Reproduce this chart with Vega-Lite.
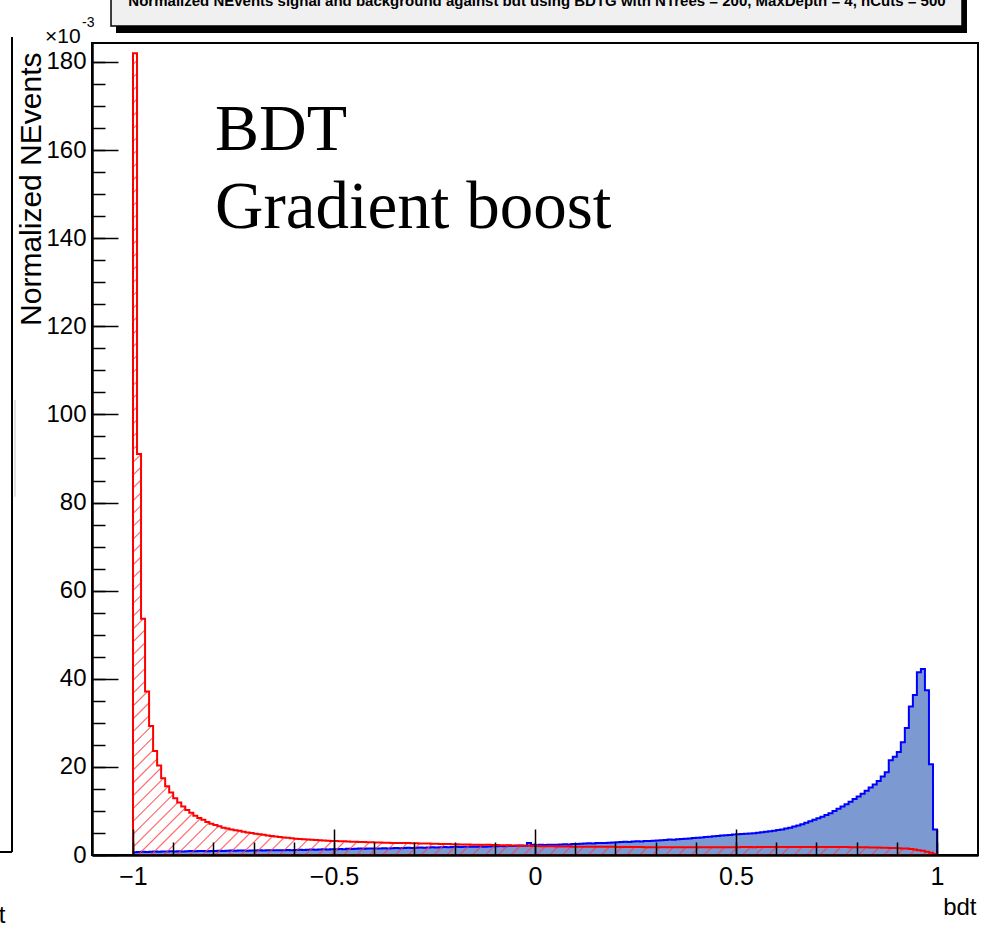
{
"$schema": "https://vega.github.io/schema/vega-lite/v6.json",
"width": 886, "height": 812,
"autosize": {"type": "none"},
"padding": {"left": 92, "top": 43, "right": 8, "bottom": 82},
"background": "#ffffff",
"config": {"view": {"stroke": "#000000", "strokeWidth": 2}, "font": "Liberation Sans"},
"data": {"values": [{"note": "annotation"}]},
"datasets": {"h": [
{"x":-1,"s":0.6,"b":182},{"x":-0.99,"s":0.7,"b":91},{"x":-0.98,"s":0.75,"b":53.6},{"x":-0.97,"s":0.7,"b":37.1},{"x":-0.96,"s":0.75,"b":29.3},{"x":-0.95,"s":0.8,"b":23.6},{"x":-0.94,"s":0.75,"b":20.3},{"x":-0.93,"s":0.8,"b":17.4},{"x":-0.92,"s":0.8,"b":15.6},{"x":-0.91,"s":0.85,"b":14.2},
{"x":-0.9,"s":0.8,"b":12.9},{"x":-0.89,"s":0.85,"b":11.9},{"x":-0.88,"s":0.8,"b":11.0},{"x":-0.87,"s":0.85,"b":10.2},{"x":-0.86,"s":0.9,"b":9.6},{"x":-0.85,"s":0.85,"b":8.9},{"x":-0.84,"s":0.9,"b":8.4},{"x":-0.83,"s":0.9,"b":8.0},{"x":-0.82,"s":0.85,"b":7.5},{"x":-0.81,"s":0.9,"b":7.1},
{"x":-0.8,"s":0.9,"b":6.8},{"x":-0.79,"s":0.95,"b":6.5},{"x":-0.78,"s":0.9,"b":6.2},{"x":-0.77,"s":0.95,"b":6.0},{"x":-0.76,"s":1.0,"b":5.8},{"x":-0.75,"s":0.95,"b":5.6},{"x":-0.74,"s":1.0,"b":5.5},{"x":-0.73,"s":1.0,"b":5.3},{"x":-0.72,"s":0.95,"b":5.1},{"x":-0.71,"s":1.0,"b":5.0},
{"x":-0.7,"s":1.0,"b":4.8},{"x":-0.69,"s":1.05,"b":4.7},{"x":-0.68,"s":1.0,"b":4.6},{"x":-0.67,"s":1.1,"b":4.4},{"x":-0.66,"s":1.05,"b":4.3},{"x":-0.65,"s":1.1,"b":4.2},{"x":-0.64,"s":1.1,"b":4.1},{"x":-0.63,"s":1.05,"b":4.0},{"x":-0.62,"s":1.15,"b":3.9},{"x":-0.61,"s":1.1,"b":3.8},
{"x":-0.6,"s":1.15,"b":3.7},{"x":-0.59,"s":1.2,"b":3.65},{"x":-0.58,"s":1.15,"b":3.6},{"x":-0.57,"s":1.2,"b":3.5},{"x":-0.56,"s":1.25,"b":3.45},{"x":-0.55,"s":1.2,"b":3.4},{"x":-0.54,"s":1.25,"b":3.35},{"x":-0.53,"s":1.3,"b":3.3},{"x":-0.52,"s":1.25,"b":3.25},{"x":-0.51,"s":1.3,"b":3.2},
{"x":-0.5,"s":1.3,"b":3.15},{"x":-0.49,"s":1.35,"b":3.1},{"x":-0.48,"s":1.3,"b":3.1},{"x":-0.47,"s":1.4,"b":3.05},{"x":-0.46,"s":1.35,"b":3.0},{"x":-0.45,"s":1.4,"b":3.0},{"x":-0.44,"s":1.45,"b":2.95},{"x":-0.43,"s":1.4,"b":2.95},{"x":-0.42,"s":1.45,"b":2.9},{"x":-0.41,"s":1.5,"b":2.9},
{"x":-0.4,"s":1.5,"b":2.85},{"x":-0.39,"s":1.45,"b":2.85},{"x":-0.38,"s":1.55,"b":2.8},{"x":-0.37,"s":1.5,"b":2.8},{"x":-0.36,"s":1.55,"b":2.75},{"x":-0.35,"s":1.6,"b":2.75},{"x":-0.34,"s":1.55,"b":2.7},{"x":-0.33,"s":1.6,"b":2.7},{"x":-0.32,"s":1.65,"b":2.7},{"x":-0.31,"s":1.6,"b":2.65},
{"x":-0.3,"s":1.65,"b":2.65},{"x":-0.29,"s":1.7,"b":2.6},{"x":-0.28,"s":1.65,"b":2.6},{"x":-0.27,"s":1.7,"b":2.6},{"x":-0.26,"s":1.75,"b":2.55},{"x":-0.25,"s":1.7,"b":2.55},{"x":-0.24,"s":1.75,"b":2.5},{"x":-0.23,"s":1.8,"b":2.5},{"x":-0.22,"s":1.75,"b":2.5},{"x":-0.21,"s":1.8,"b":2.45},
{"x":-0.2,"s":1.85,"b":2.45},{"x":-0.19,"s":1.8,"b":2.4},{"x":-0.18,"s":1.85,"b":2.4},{"x":-0.17,"s":1.9,"b":2.4},{"x":-0.16,"s":1.85,"b":2.35},{"x":-0.15,"s":1.9,"b":2.35},{"x":-0.14,"s":1.95,"b":2.3},{"x":-0.13,"s":1.9,"b":2.3},{"x":-0.12,"s":1.95,"b":2.3},{"x":-0.11,"s":2.0,"b":2.25},
{"x":-0.1,"s":2.0,"b":2.25},{"x":-0.09,"s":2.05,"b":2.2},{"x":-0.08,"s":2.0,"b":2.2},{"x":-0.07,"s":2.1,"b":2.2},{"x":-0.06,"s":2.05,"b":2.15},{"x":-0.05,"s":2.1,"b":2.15},{"x":-0.04,"s":2.15,"b":2.1},{"x":-0.03,"s":2.1,"b":2.1},{"x":-0.02,"s":2.7,"b":2.1},{"x":-0.01,"s":2.3,"b":2.05},
{"x":0,"s":2.2,"b":2.05},{"x":0.01,"s":2.3,"b":2.0},{"x":0.02,"s":2.25,"b":2.0},{"x":0.03,"s":2.3,"b":2.0},{"x":0.04,"s":2.35,"b":2.0},{"x":0.05,"s":2.3,"b":1.95},{"x":0.06,"s":2.4,"b":1.95},{"x":0.07,"s":2.45,"b":1.95},{"x":0.08,"s":2.4,"b":1.95},{"x":0.09,"s":2.5,"b":1.9},
{"x":0.1,"s":2.5,"b":1.9},{"x":0.11,"s":2.55,"b":1.9},{"x":0.12,"s":2.6,"b":1.9},{"x":0.13,"s":2.65,"b":1.9},{"x":0.14,"s":2.6,"b":1.85},{"x":0.15,"s":2.7,"b":1.85},{"x":0.16,"s":2.75,"b":1.85},{"x":0.17,"s":2.7,"b":1.85},{"x":0.18,"s":2.8,"b":1.85},{"x":0.19,"s":2.85,"b":1.85},
{"x":0.2,"s":2.9,"b":1.8},{"x":0.21,"s":2.95,"b":1.8},{"x":0.22,"s":3.0,"b":1.8},{"x":0.23,"s":2.95,"b":1.8},{"x":0.24,"s":3.05,"b":1.8},{"x":0.25,"s":3.1,"b":1.8},{"x":0.26,"s":3.05,"b":1.8},{"x":0.27,"s":3.2,"b":1.75},{"x":0.28,"s":3.15,"b":1.75},{"x":0.29,"s":3.25,"b":1.75},
{"x":0.3,"s":3.3,"b":1.75},{"x":0.31,"s":3.35,"b":1.75},{"x":0.32,"s":3.4,"b":1.75},{"x":0.33,"s":3.5,"b":1.75},{"x":0.34,"s":3.45,"b":1.75},{"x":0.35,"s":3.6,"b":1.75},{"x":0.36,"s":3.65,"b":1.75},{"x":0.37,"s":3.7,"b":1.75},{"x":0.38,"s":3.75,"b":1.75},{"x":0.39,"s":3.85,"b":1.75},
{"x":0.4,"s":3.9,"b":1.75},{"x":0.41,"s":4.0,"b":1.75},{"x":0.42,"s":4.1,"b":1.75},{"x":0.43,"s":4.15,"b":1.75},{"x":0.44,"s":4.25,"b":1.75},{"x":0.45,"s":4.3,"b":1.75},{"x":0.46,"s":4.4,"b":1.75},{"x":0.47,"s":4.5,"b":1.75},{"x":0.48,"s":4.55,"b":1.75},{"x":0.49,"s":4.65,"b":1.75},
{"x":0.5,"s":4.7,"b":1.75},{"x":0.51,"s":4.75,"b":1.8},{"x":0.52,"s":4.8,"b":1.8},{"x":0.53,"s":4.9,"b":1.8},{"x":0.54,"s":4.95,"b":1.75},{"x":0.55,"s":5.05,"b":1.8},{"x":0.56,"s":5.15,"b":1.8},{"x":0.57,"s":5.3,"b":1.8},{"x":0.58,"s":5.4,"b":1.8},{"x":0.59,"s":5.5,"b":1.8},
{"x":0.6,"s":5.65,"b":1.8},{"x":0.61,"s":5.8,"b":1.8},{"x":0.62,"s":6.0,"b":1.8},{"x":0.63,"s":6.2,"b":1.8},{"x":0.64,"s":6.45,"b":1.8},{"x":0.65,"s":6.7,"b":1.8},{"x":0.66,"s":7.0,"b":1.8},{"x":0.67,"s":7.3,"b":1.8},{"x":0.68,"s":7.65,"b":1.8},{"x":0.69,"s":8.0,"b":1.8},
{"x":0.7,"s":8.35,"b":1.8},{"x":0.71,"s":8.7,"b":1.8},{"x":0.72,"s":9.1,"b":1.8},{"x":0.73,"s":9.5,"b":1.8},{"x":0.74,"s":10.0,"b":1.8},{"x":0.75,"s":10.5,"b":1.8},{"x":0.76,"s":11.0,"b":1.8},{"x":0.77,"s":11.5,"b":1.8},{"x":0.78,"s":12.1,"b":1.75},{"x":0.79,"s":12.7,"b":1.75},
{"x":0.8,"s":13.3,"b":1.75},{"x":0.81,"s":13.9,"b":1.75},{"x":0.82,"s":14.6,"b":1.75},{"x":0.83,"s":15.3,"b":1.7},{"x":0.84,"s":16.0,"b":1.7},{"x":0.85,"s":16.8,"b":1.7},{"x":0.86,"s":17.8,"b":1.65},{"x":0.87,"s":18.8,"b":1.65},{"x":0.88,"s":21.5,"b":1.6},{"x":0.89,"s":22.3,"b":1.6},
{"x":0.9,"s":23.4,"b":1.55},{"x":0.91,"s":25.6,"b":1.5},{"x":0.92,"s":28.8,"b":1.45},{"x":0.93,"s":33.7,"b":1.35},{"x":0.94,"s":36.3,"b":1.25},{"x":0.95,"s":41.5,"b":1.1},{"x":0.96,"s":42.2,"b":0.95},{"x":0.97,"s":37.4,"b":0.75},{"x":0.98,"s":20.6,"b":0.5},{"x":0.99,"s":5.8,"b":0.25},
{"x":1,"s":0,"b":0}
]},
"resolve": {"axis": {"x": "independent", "y": "independent"}},
"layer": [
{"mark": {"type": "rect", "fill": "#000000"},
 "encoding": {
  "x": {"datum": -1.0423, "type": "quantitative", "scale": {"domain": [-1.102, 1.102], "nice": false, "zero": false}, "axis": null},
  "x2": {"datum": 1.0746},
  "y": {"datum": 186.56, "type": "quantitative", "scale": {"domain": [0, 184.3], "nice": false, "zero": false}, "axis": null},
  "y2": {"datum": 200}}},
{"mark": {"type": "rect", "fill": "#f0f0f0", "stroke": "#000000", "strokeWidth": 1.5},
 "encoding": {
  "x": {"datum": -1.0547, "type": "quantitative", "scale": {"domain": [-1.102, 1.102], "nice": false, "zero": false}, "axis": null},
  "x2": {"datum": 1.0622},
  "y": {"datum": 188.15, "type": "quantitative", "scale": {"domain": [0, 184.3], "nice": false, "zero": false}, "axis": null},
  "y2": {"datum": 200}}},
{"mark": {"type": "text", "text": "Normalized NEvents signal and background against bdt using BDTG with NTrees = 200, MaxDepth = 4, nCuts = 500", "font": "Liberation Sans", "fontSize": 15, "fontWeight": "bold", "align": "center", "baseline": "alphabetic", "color": "#000000"},
 "encoding": {
  "x": {"datum": 0.005, "type": "quantitative", "scale": {"domain": [-1.102, 1.102], "nice": false, "zero": false}, "axis": null},
  "y": {"datum": 192.7, "type": "quantitative", "scale": {"domain": [0, 184.3], "nice": false, "zero": false}, "axis": null}}},
{"data": {"name": "h"},
 "mark": {"type": "area", "interpolate": "step-after", "fill": "#7d99d1", "stroke": "#0000ff", "strokeWidth": 2, "strokeJoin": "miter", "clip": true},
 "encoding": {
  "x": {"field": "x", "type": "quantitative", "scale": {"domain": [-1.102, 1.102], "nice": false, "zero": false},
   "axis": {"orient": "bottom", "values": [-1, -0.5, 0, 0.5, 1], "format": "~g", "tickSize": -26, "tickColor": "#000000", "tickWidth": 1.5, "domainColor": "#000000", "domainWidth": 2.5, "grid": false, "labelFont": "Liberation Sans", "labelFontSize": 25, "labelColor": "#000000", "labelPadding": 35, "labelFlush": false, "labelOverlap": false, "labelBaseline": "top", "title": "bdt", "titleFont": "Liberation Sans", "titleFontSize": 24, "titleFontWeight": "normal", "titleColor": "#000000", "titleAlign": "right", "titleBaseline": "top", "titleX": 884, "titleY": 40, "zindex": 1}},
  "y": {"field": "s", "type": "quantitative", "scale": {"domain": [0, 184.3], "nice": false, "zero": false},
   "axis": {"orient": "left", "values": [0, 20, 40, 60, 80, 100, 120, 140, 160, 180], "format": "d", "tickSize": -26, "tickColor": "#000000", "tickWidth": 1.5, "domainColor": "#000000", "domainWidth": 2.5, "grid": false, "labelFont": "Liberation Sans", "labelFontSize": 24, "labelColor": "#000000", "labelPadding": 32, "labelFlush": false, "labelOverlap": false, "title": "Normalized NEvents", "titleFont": "Liberation Sans", "titleFontSize": 30, "titleFontWeight": "normal", "titleColor": "#000000", "titleAngle": -90, "titleAlign": "right", "titleBaseline": "bottom", "titleX": -46, "titleY": 9, "zindex": 1}}}},
{"data": {"name": "h"},
 "mark": {"type": "area", "interpolate": "step-after", "stroke": "#ff0000", "strokeWidth": 2, "strokeJoin": "miter", "clip": true,
  "fill": {"gradient": "linear", "x1": 0, "y1": 0, "x2": 1, "y2": 1, "stops": [
{"offset":0,"color":"rgba(255,0,0,0)"},
{"offset":0.00624,"color":"rgba(255,0,0,0)"},{"offset":0.00712,"color":"rgba(255,80,80,0.85)"},{"offset":0.008,"color":"rgba(255,0,0,0)"},
{"offset":0.01424,"color":"rgba(255,0,0,0)"},{"offset":0.01512,"color":"rgba(255,80,80,0.85)"},{"offset":0.016,"color":"rgba(255,0,0,0)"},
{"offset":0.02224,"color":"rgba(255,0,0,0)"},{"offset":0.02312,"color":"rgba(255,80,80,0.85)"},{"offset":0.024,"color":"rgba(255,0,0,0)"},
{"offset":0.03024,"color":"rgba(255,0,0,0)"},{"offset":0.03112,"color":"rgba(255,80,80,0.85)"},{"offset":0.032,"color":"rgba(255,0,0,0)"},
{"offset":0.03824,"color":"rgba(255,0,0,0)"},{"offset":0.03912,"color":"rgba(255,80,80,0.85)"},{"offset":0.04,"color":"rgba(255,0,0,0)"},
{"offset":0.04624,"color":"rgba(255,0,0,0)"},{"offset":0.04712,"color":"rgba(255,80,80,0.85)"},{"offset":0.048,"color":"rgba(255,0,0,0)"},
{"offset":0.05424,"color":"rgba(255,0,0,0)"},{"offset":0.05512,"color":"rgba(255,80,80,0.85)"},{"offset":0.056,"color":"rgba(255,0,0,0)"},
{"offset":0.06224,"color":"rgba(255,0,0,0)"},{"offset":0.06312,"color":"rgba(255,80,80,0.85)"},{"offset":0.064,"color":"rgba(255,0,0,0)"},
{"offset":0.07024,"color":"rgba(255,0,0,0)"},{"offset":0.07112,"color":"rgba(255,80,80,0.85)"},{"offset":0.072,"color":"rgba(255,0,0,0)"},
{"offset":0.07824,"color":"rgba(255,0,0,0)"},{"offset":0.07912,"color":"rgba(255,80,80,0.85)"},{"offset":0.08,"color":"rgba(255,0,0,0)"},
{"offset":0.08624,"color":"rgba(255,0,0,0)"},{"offset":0.08712,"color":"rgba(255,80,80,0.85)"},{"offset":0.088,"color":"rgba(255,0,0,0)"},
{"offset":0.09424,"color":"rgba(255,0,0,0)"},{"offset":0.09512,"color":"rgba(255,80,80,0.85)"},{"offset":0.096,"color":"rgba(255,0,0,0)"},
{"offset":0.10224,"color":"rgba(255,0,0,0)"},{"offset":0.10312,"color":"rgba(255,80,80,0.85)"},{"offset":0.104,"color":"rgba(255,0,0,0)"},
{"offset":0.11024,"color":"rgba(255,0,0,0)"},{"offset":0.11112,"color":"rgba(255,80,80,0.85)"},{"offset":0.112,"color":"rgba(255,0,0,0)"},
{"offset":0.11824,"color":"rgba(255,0,0,0)"},{"offset":0.11912,"color":"rgba(255,80,80,0.85)"},{"offset":0.12,"color":"rgba(255,0,0,0)"},
{"offset":0.12624,"color":"rgba(255,0,0,0)"},{"offset":0.12712,"color":"rgba(255,80,80,0.85)"},{"offset":0.128,"color":"rgba(255,0,0,0)"},
{"offset":0.13424,"color":"rgba(255,0,0,0)"},{"offset":0.13512,"color":"rgba(255,80,80,0.85)"},{"offset":0.136,"color":"rgba(255,0,0,0)"},
{"offset":0.14224,"color":"rgba(255,0,0,0)"},{"offset":0.14312,"color":"rgba(255,80,80,0.85)"},{"offset":0.144,"color":"rgba(255,0,0,0)"},
{"offset":0.15024,"color":"rgba(255,0,0,0)"},{"offset":0.15112,"color":"rgba(255,80,80,0.85)"},{"offset":0.152,"color":"rgba(255,0,0,0)"},
{"offset":0.15824,"color":"rgba(255,0,0,0)"},{"offset":0.15912,"color":"rgba(255,80,80,0.85)"},{"offset":0.16,"color":"rgba(255,0,0,0)"},
{"offset":0.16624,"color":"rgba(255,0,0,0)"},{"offset":0.16712,"color":"rgba(255,80,80,0.85)"},{"offset":0.168,"color":"rgba(255,0,0,0)"},
{"offset":0.17424,"color":"rgba(255,0,0,0)"},{"offset":0.17512,"color":"rgba(255,80,80,0.85)"},{"offset":0.176,"color":"rgba(255,0,0,0)"},
{"offset":0.18224,"color":"rgba(255,0,0,0)"},{"offset":0.18312,"color":"rgba(255,80,80,0.85)"},{"offset":0.184,"color":"rgba(255,0,0,0)"},
{"offset":0.19024,"color":"rgba(255,0,0,0)"},{"offset":0.19112,"color":"rgba(255,80,80,0.85)"},{"offset":0.192,"color":"rgba(255,0,0,0)"},
{"offset":0.19824,"color":"rgba(255,0,0,0)"},{"offset":0.19912,"color":"rgba(255,80,80,0.85)"},{"offset":0.2,"color":"rgba(255,0,0,0)"},
{"offset":0.20624,"color":"rgba(255,0,0,0)"},{"offset":0.20712,"color":"rgba(255,80,80,0.85)"},{"offset":0.208,"color":"rgba(255,0,0,0)"},
{"offset":0.21424,"color":"rgba(255,0,0,0)"},{"offset":0.21512,"color":"rgba(255,80,80,0.85)"},{"offset":0.216,"color":"rgba(255,0,0,0)"},
{"offset":0.22224,"color":"rgba(255,0,0,0)"},{"offset":0.22312,"color":"rgba(255,80,80,0.85)"},{"offset":0.224,"color":"rgba(255,0,0,0)"},
{"offset":0.23024,"color":"rgba(255,0,0,0)"},{"offset":0.23112,"color":"rgba(255,80,80,0.85)"},{"offset":0.232,"color":"rgba(255,0,0,0)"},
{"offset":0.23824,"color":"rgba(255,0,0,0)"},{"offset":0.23912,"color":"rgba(255,80,80,0.85)"},{"offset":0.24,"color":"rgba(255,0,0,0)"},
{"offset":0.24624,"color":"rgba(255,0,0,0)"},{"offset":0.24712,"color":"rgba(255,80,80,0.85)"},{"offset":0.248,"color":"rgba(255,0,0,0)"},
{"offset":0.25424,"color":"rgba(255,0,0,0)"},{"offset":0.25512,"color":"rgba(255,80,80,0.85)"},{"offset":0.256,"color":"rgba(255,0,0,0)"},
{"offset":0.26224,"color":"rgba(255,0,0,0)"},{"offset":0.26312,"color":"rgba(255,80,80,0.85)"},{"offset":0.264,"color":"rgba(255,0,0,0)"},
{"offset":0.27024,"color":"rgba(255,0,0,0)"},{"offset":0.27112,"color":"rgba(255,80,80,0.85)"},{"offset":0.272,"color":"rgba(255,0,0,0)"},
{"offset":0.27824,"color":"rgba(255,0,0,0)"},{"offset":0.27912,"color":"rgba(255,80,80,0.85)"},{"offset":0.28,"color":"rgba(255,0,0,0)"},
{"offset":0.28624,"color":"rgba(255,0,0,0)"},{"offset":0.28712,"color":"rgba(255,80,80,0.85)"},{"offset":0.288,"color":"rgba(255,0,0,0)"},
{"offset":0.29424,"color":"rgba(255,0,0,0)"},{"offset":0.29512,"color":"rgba(255,80,80,0.85)"},{"offset":0.296,"color":"rgba(255,0,0,0)"},
{"offset":0.30224,"color":"rgba(255,0,0,0)"},{"offset":0.30312,"color":"rgba(255,80,80,0.85)"},{"offset":0.304,"color":"rgba(255,0,0,0)"},
{"offset":0.31024,"color":"rgba(255,0,0,0)"},{"offset":0.31112,"color":"rgba(255,80,80,0.85)"},{"offset":0.312,"color":"rgba(255,0,0,0)"},
{"offset":0.31824,"color":"rgba(255,0,0,0)"},{"offset":0.31912,"color":"rgba(255,80,80,0.85)"},{"offset":0.32,"color":"rgba(255,0,0,0)"},
{"offset":0.32624,"color":"rgba(255,0,0,0)"},{"offset":0.32712,"color":"rgba(255,80,80,0.85)"},{"offset":0.328,"color":"rgba(255,0,0,0)"},
{"offset":0.33424,"color":"rgba(255,0,0,0)"},{"offset":0.33512,"color":"rgba(255,80,80,0.85)"},{"offset":0.336,"color":"rgba(255,0,0,0)"},
{"offset":0.34224,"color":"rgba(255,0,0,0)"},{"offset":0.34312,"color":"rgba(255,80,80,0.85)"},{"offset":0.344,"color":"rgba(255,0,0,0)"},
{"offset":0.35024,"color":"rgba(255,0,0,0)"},{"offset":0.35112,"color":"rgba(255,80,80,0.85)"},{"offset":0.352,"color":"rgba(255,0,0,0)"},
{"offset":0.35824,"color":"rgba(255,0,0,0)"},{"offset":0.35912,"color":"rgba(255,80,80,0.85)"},{"offset":0.36,"color":"rgba(255,0,0,0)"},
{"offset":0.36624,"color":"rgba(255,0,0,0)"},{"offset":0.36712,"color":"rgba(255,80,80,0.85)"},{"offset":0.368,"color":"rgba(255,0,0,0)"},
{"offset":0.37424,"color":"rgba(255,0,0,0)"},{"offset":0.37512,"color":"rgba(255,80,80,0.85)"},{"offset":0.376,"color":"rgba(255,0,0,0)"},
{"offset":0.38224,"color":"rgba(255,0,0,0)"},{"offset":0.38312,"color":"rgba(255,80,80,0.85)"},{"offset":0.384,"color":"rgba(255,0,0,0)"},
{"offset":0.39024,"color":"rgba(255,0,0,0)"},{"offset":0.39112,"color":"rgba(255,80,80,0.85)"},{"offset":0.392,"color":"rgba(255,0,0,0)"},
{"offset":0.39824,"color":"rgba(255,0,0,0)"},{"offset":0.39912,"color":"rgba(255,80,80,0.85)"},{"offset":0.4,"color":"rgba(255,0,0,0)"},
{"offset":0.40624,"color":"rgba(255,0,0,0)"},{"offset":0.40712,"color":"rgba(255,80,80,0.85)"},{"offset":0.408,"color":"rgba(255,0,0,0)"},
{"offset":0.41424,"color":"rgba(255,0,0,0)"},{"offset":0.41512,"color":"rgba(255,80,80,0.85)"},{"offset":0.416,"color":"rgba(255,0,0,0)"},
{"offset":0.42224,"color":"rgba(255,0,0,0)"},{"offset":0.42312,"color":"rgba(255,80,80,0.85)"},{"offset":0.424,"color":"rgba(255,0,0,0)"},
{"offset":0.43024,"color":"rgba(255,0,0,0)"},{"offset":0.43112,"color":"rgba(255,80,80,0.85)"},{"offset":0.432,"color":"rgba(255,0,0,0)"},
{"offset":0.43824,"color":"rgba(255,0,0,0)"},{"offset":0.43912,"color":"rgba(255,80,80,0.85)"},{"offset":0.44,"color":"rgba(255,0,0,0)"},
{"offset":0.44624,"color":"rgba(255,0,0,0)"},{"offset":0.44712,"color":"rgba(255,80,80,0.85)"},{"offset":0.448,"color":"rgba(255,0,0,0)"},
{"offset":0.45424,"color":"rgba(255,0,0,0)"},{"offset":0.45512,"color":"rgba(255,80,80,0.85)"},{"offset":0.456,"color":"rgba(255,0,0,0)"},
{"offset":0.46224,"color":"rgba(255,0,0,0)"},{"offset":0.46312,"color":"rgba(255,80,80,0.85)"},{"offset":0.464,"color":"rgba(255,0,0,0)"},
{"offset":0.47024,"color":"rgba(255,0,0,0)"},{"offset":0.47112,"color":"rgba(255,80,80,0.85)"},{"offset":0.472,"color":"rgba(255,0,0,0)"},
{"offset":0.47824,"color":"rgba(255,0,0,0)"},{"offset":0.47912,"color":"rgba(255,80,80,0.85)"},{"offset":0.48,"color":"rgba(255,0,0,0)"},
{"offset":0.48624,"color":"rgba(255,0,0,0)"},{"offset":0.48712,"color":"rgba(255,80,80,0.85)"},{"offset":0.488,"color":"rgba(255,0,0,0)"},
{"offset":0.49424,"color":"rgba(255,0,0,0)"},{"offset":0.49512,"color":"rgba(255,80,80,0.85)"},{"offset":0.496,"color":"rgba(255,0,0,0)"},
{"offset":0.50224,"color":"rgba(255,0,0,0)"},{"offset":0.50312,"color":"rgba(255,80,80,0.85)"},{"offset":0.504,"color":"rgba(255,0,0,0)"},
{"offset":0.51024,"color":"rgba(255,0,0,0)"},{"offset":0.51112,"color":"rgba(255,80,80,0.85)"},{"offset":0.512,"color":"rgba(255,0,0,0)"},
{"offset":0.51824,"color":"rgba(255,0,0,0)"},{"offset":0.51912,"color":"rgba(255,80,80,0.85)"},{"offset":0.52,"color":"rgba(255,0,0,0)"},
{"offset":0.52624,"color":"rgba(255,0,0,0)"},{"offset":0.52712,"color":"rgba(255,80,80,0.85)"},{"offset":0.528,"color":"rgba(255,0,0,0)"},
{"offset":0.53424,"color":"rgba(255,0,0,0)"},{"offset":0.53512,"color":"rgba(255,80,80,0.85)"},{"offset":0.536,"color":"rgba(255,0,0,0)"},
{"offset":0.54224,"color":"rgba(255,0,0,0)"},{"offset":0.54312,"color":"rgba(255,80,80,0.85)"},{"offset":0.544,"color":"rgba(255,0,0,0)"},
{"offset":0.55024,"color":"rgba(255,0,0,0)"},{"offset":0.55112,"color":"rgba(255,80,80,0.85)"},{"offset":0.552,"color":"rgba(255,0,0,0)"},
{"offset":0.55824,"color":"rgba(255,0,0,0)"},{"offset":0.55912,"color":"rgba(255,80,80,0.85)"},{"offset":0.56,"color":"rgba(255,0,0,0)"},
{"offset":0.56624,"color":"rgba(255,0,0,0)"},{"offset":0.56712,"color":"rgba(255,80,80,0.85)"},{"offset":0.568,"color":"rgba(255,0,0,0)"},
{"offset":0.57424,"color":"rgba(255,0,0,0)"},{"offset":0.57512,"color":"rgba(255,80,80,0.85)"},{"offset":0.576,"color":"rgba(255,0,0,0)"},
{"offset":0.58224,"color":"rgba(255,0,0,0)"},{"offset":0.58312,"color":"rgba(255,80,80,0.85)"},{"offset":0.584,"color":"rgba(255,0,0,0)"},
{"offset":0.59024,"color":"rgba(255,0,0,0)"},{"offset":0.59112,"color":"rgba(255,80,80,0.85)"},{"offset":0.592,"color":"rgba(255,0,0,0)"},
{"offset":0.59824,"color":"rgba(255,0,0,0)"},{"offset":0.59912,"color":"rgba(255,80,80,0.85)"},{"offset":0.6,"color":"rgba(255,0,0,0)"},
{"offset":0.60624,"color":"rgba(255,0,0,0)"},{"offset":0.60712,"color":"rgba(255,80,80,0.85)"},{"offset":0.608,"color":"rgba(255,0,0,0)"},
{"offset":0.61424,"color":"rgba(255,0,0,0)"},{"offset":0.61512,"color":"rgba(255,80,80,0.85)"},{"offset":0.616,"color":"rgba(255,0,0,0)"},
{"offset":0.62224,"color":"rgba(255,0,0,0)"},{"offset":0.62312,"color":"rgba(255,80,80,0.85)"},{"offset":0.624,"color":"rgba(255,0,0,0)"},
{"offset":0.63024,"color":"rgba(255,0,0,0)"},{"offset":0.63112,"color":"rgba(255,80,80,0.85)"},{"offset":0.632,"color":"rgba(255,0,0,0)"},
{"offset":0.63824,"color":"rgba(255,0,0,0)"},{"offset":0.63912,"color":"rgba(255,80,80,0.85)"},{"offset":0.64,"color":"rgba(255,0,0,0)"},
{"offset":0.64624,"color":"rgba(255,0,0,0)"},{"offset":0.64712,"color":"rgba(255,80,80,0.85)"},{"offset":0.648,"color":"rgba(255,0,0,0)"},
{"offset":0.65424,"color":"rgba(255,0,0,0)"},{"offset":0.65512,"color":"rgba(255,80,80,0.85)"},{"offset":0.656,"color":"rgba(255,0,0,0)"},
{"offset":0.66224,"color":"rgba(255,0,0,0)"},{"offset":0.66312,"color":"rgba(255,80,80,0.85)"},{"offset":0.664,"color":"rgba(255,0,0,0)"},
{"offset":0.67024,"color":"rgba(255,0,0,0)"},{"offset":0.67112,"color":"rgba(255,80,80,0.85)"},{"offset":0.672,"color":"rgba(255,0,0,0)"},
{"offset":0.67824,"color":"rgba(255,0,0,0)"},{"offset":0.67912,"color":"rgba(255,80,80,0.85)"},{"offset":0.68,"color":"rgba(255,0,0,0)"},
{"offset":0.68624,"color":"rgba(255,0,0,0)"},{"offset":0.68712,"color":"rgba(255,80,80,0.85)"},{"offset":0.688,"color":"rgba(255,0,0,0)"},
{"offset":0.69424,"color":"rgba(255,0,0,0)"},{"offset":0.69512,"color":"rgba(255,80,80,0.85)"},{"offset":0.696,"color":"rgba(255,0,0,0)"},
{"offset":0.70224,"color":"rgba(255,0,0,0)"},{"offset":0.70312,"color":"rgba(255,80,80,0.85)"},{"offset":0.704,"color":"rgba(255,0,0,0)"},
{"offset":0.71024,"color":"rgba(255,0,0,0)"},{"offset":0.71112,"color":"rgba(255,80,80,0.85)"},{"offset":0.712,"color":"rgba(255,0,0,0)"},
{"offset":0.71824,"color":"rgba(255,0,0,0)"},{"offset":0.71912,"color":"rgba(255,80,80,0.85)"},{"offset":0.72,"color":"rgba(255,0,0,0)"},
{"offset":0.72624,"color":"rgba(255,0,0,0)"},{"offset":0.72712,"color":"rgba(255,80,80,0.85)"},{"offset":0.728,"color":"rgba(255,0,0,0)"},
{"offset":0.73424,"color":"rgba(255,0,0,0)"},{"offset":0.73512,"color":"rgba(255,80,80,0.85)"},{"offset":0.736,"color":"rgba(255,0,0,0)"},
{"offset":0.74224,"color":"rgba(255,0,0,0)"},{"offset":0.74312,"color":"rgba(255,80,80,0.85)"},{"offset":0.744,"color":"rgba(255,0,0,0)"},
{"offset":0.75024,"color":"rgba(255,0,0,0)"},{"offset":0.75112,"color":"rgba(255,80,80,0.85)"},{"offset":0.752,"color":"rgba(255,0,0,0)"},
{"offset":0.75824,"color":"rgba(255,0,0,0)"},{"offset":0.75912,"color":"rgba(255,80,80,0.85)"},{"offset":0.76,"color":"rgba(255,0,0,0)"},
{"offset":0.76624,"color":"rgba(255,0,0,0)"},{"offset":0.76712,"color":"rgba(255,80,80,0.85)"},{"offset":0.768,"color":"rgba(255,0,0,0)"},
{"offset":0.77424,"color":"rgba(255,0,0,0)"},{"offset":0.77512,"color":"rgba(255,80,80,0.85)"},{"offset":0.776,"color":"rgba(255,0,0,0)"},
{"offset":0.78224,"color":"rgba(255,0,0,0)"},{"offset":0.78312,"color":"rgba(255,80,80,0.85)"},{"offset":0.784,"color":"rgba(255,0,0,0)"},
{"offset":0.79024,"color":"rgba(255,0,0,0)"},{"offset":0.79112,"color":"rgba(255,80,80,0.85)"},{"offset":0.792,"color":"rgba(255,0,0,0)"},
{"offset":0.79824,"color":"rgba(255,0,0,0)"},{"offset":0.79912,"color":"rgba(255,80,80,0.85)"},{"offset":0.8,"color":"rgba(255,0,0,0)"},
{"offset":0.80624,"color":"rgba(255,0,0,0)"},{"offset":0.80712,"color":"rgba(255,80,80,0.85)"},{"offset":0.808,"color":"rgba(255,0,0,0)"},
{"offset":0.81424,"color":"rgba(255,0,0,0)"},{"offset":0.81512,"color":"rgba(255,80,80,0.85)"},{"offset":0.816,"color":"rgba(255,0,0,0)"},
{"offset":0.82224,"color":"rgba(255,0,0,0)"},{"offset":0.82312,"color":"rgba(255,80,80,0.85)"},{"offset":0.824,"color":"rgba(255,0,0,0)"},
{"offset":0.83024,"color":"rgba(255,0,0,0)"},{"offset":0.83112,"color":"rgba(255,80,80,0.85)"},{"offset":0.832,"color":"rgba(255,0,0,0)"},
{"offset":0.83824,"color":"rgba(255,0,0,0)"},{"offset":0.83912,"color":"rgba(255,80,80,0.85)"},{"offset":0.84,"color":"rgba(255,0,0,0)"},
{"offset":0.84624,"color":"rgba(255,0,0,0)"},{"offset":0.84712,"color":"rgba(255,80,80,0.85)"},{"offset":0.848,"color":"rgba(255,0,0,0)"},
{"offset":0.85424,"color":"rgba(255,0,0,0)"},{"offset":0.85512,"color":"rgba(255,80,80,0.85)"},{"offset":0.856,"color":"rgba(255,0,0,0)"},
{"offset":0.86224,"color":"rgba(255,0,0,0)"},{"offset":0.86312,"color":"rgba(255,80,80,0.85)"},{"offset":0.864,"color":"rgba(255,0,0,0)"},
{"offset":0.87024,"color":"rgba(255,0,0,0)"},{"offset":0.87112,"color":"rgba(255,80,80,0.85)"},{"offset":0.872,"color":"rgba(255,0,0,0)"},
{"offset":0.87824,"color":"rgba(255,0,0,0)"},{"offset":0.87912,"color":"rgba(255,80,80,0.85)"},{"offset":0.88,"color":"rgba(255,0,0,0)"},
{"offset":0.88624,"color":"rgba(255,0,0,0)"},{"offset":0.88712,"color":"rgba(255,80,80,0.85)"},{"offset":0.888,"color":"rgba(255,0,0,0)"},
{"offset":0.89424,"color":"rgba(255,0,0,0)"},{"offset":0.89512,"color":"rgba(255,80,80,0.85)"},{"offset":0.896,"color":"rgba(255,0,0,0)"},
{"offset":0.90224,"color":"rgba(255,0,0,0)"},{"offset":0.90312,"color":"rgba(255,80,80,0.85)"},{"offset":0.904,"color":"rgba(255,0,0,0)"},
{"offset":0.91024,"color":"rgba(255,0,0,0)"},{"offset":0.91112,"color":"rgba(255,80,80,0.85)"},{"offset":0.912,"color":"rgba(255,0,0,0)"},
{"offset":0.91824,"color":"rgba(255,0,0,0)"},{"offset":0.91912,"color":"rgba(255,80,80,0.85)"},{"offset":0.92,"color":"rgba(255,0,0,0)"},
{"offset":0.92624,"color":"rgba(255,0,0,0)"},{"offset":0.92712,"color":"rgba(255,80,80,0.85)"},{"offset":0.928,"color":"rgba(255,0,0,0)"},
{"offset":0.93424,"color":"rgba(255,0,0,0)"},{"offset":0.93512,"color":"rgba(255,80,80,0.85)"},{"offset":0.936,"color":"rgba(255,0,0,0)"},
{"offset":0.94224,"color":"rgba(255,0,0,0)"},{"offset":0.94312,"color":"rgba(255,80,80,0.85)"},{"offset":0.944,"color":"rgba(255,0,0,0)"},
{"offset":0.95024,"color":"rgba(255,0,0,0)"},{"offset":0.95112,"color":"rgba(255,80,80,0.85)"},{"offset":0.952,"color":"rgba(255,0,0,0)"},
{"offset":0.95824,"color":"rgba(255,0,0,0)"},{"offset":0.95912,"color":"rgba(255,80,80,0.85)"},{"offset":0.96,"color":"rgba(255,0,0,0)"},
{"offset":0.96624,"color":"rgba(255,0,0,0)"},{"offset":0.96712,"color":"rgba(255,80,80,0.85)"},{"offset":0.968,"color":"rgba(255,0,0,0)"},
{"offset":0.97424,"color":"rgba(255,0,0,0)"},{"offset":0.97512,"color":"rgba(255,80,80,0.85)"},{"offset":0.976,"color":"rgba(255,0,0,0)"},
{"offset":0.98224,"color":"rgba(255,0,0,0)"},{"offset":0.98312,"color":"rgba(255,80,80,0.85)"},{"offset":0.984,"color":"rgba(255,0,0,0)"},
{"offset":0.99024,"color":"rgba(255,0,0,0)"},{"offset":0.99112,"color":"rgba(255,80,80,0.85)"},{"offset":0.992,"color":"rgba(255,0,0,0)"},
{"offset":1,"color":"rgba(255,0,0,0)"}
  ]}},
 "encoding": {
  "x": {"field": "x", "type": "quantitative", "scale": {"domain": [-1.102, 1.102], "nice": false, "zero": false},
   "axis": {"orient": "bottom", "values": [-1, -0.9, -0.8, -0.7, -0.6, -0.5, -0.4, -0.3, -0.2, -0.1, 0, 0.1, 0.2, 0.3, 0.4, 0.5, 0.6, 0.7, 0.8, 0.9, 1], "tickSize": -13, "tickColor": "#000000", "tickWidth": 1.5, "labels": false, "domain": false, "grid": false, "title": null, "zindex": 1}},
  "y": {"field": "b", "type": "quantitative", "scale": {"domain": [0, 184.3], "nice": false, "zero": false},
   "axis": {"orient": "left", "values": [0, 5, 10, 15, 20, 25, 30, 35, 40, 45, 50, 55, 60, 65, 70, 75, 80, 85, 90, 95, 100, 105, 110, 115, 120, 125, 130, 135, 140, 145, 150, 155, 160, 165, 170, 175, 180], "tickSize": -13, "tickColor": "#000000", "tickWidth": 1.5, "labels": false, "domain": false, "grid": false, "title": null, "zindex": 1}}}},
{"mark": {"type": "text", "text": "BDT", "font": "Liberation Serif", "fontSize": 66, "align": "left", "baseline": "alphabetic", "color": "#000000"},
 "encoding": {
  "x": {"datum": -0.796, "type": "quantitative", "scale": {"domain": [-1.102, 1.102], "nice": false, "zero": false}, "axis": null},
  "y": {"datum": 160.0, "type": "quantitative", "scale": {"domain": [0, 184.3], "nice": false, "zero": false}, "axis": null}}},
{"mark": {"type": "text", "text": "Gradient boost", "font": "Liberation Serif", "fontSize": 67, "align": "left", "baseline": "alphabetic", "color": "#000000"},
 "encoding": {
  "x": {"datum": -0.796, "type": "quantitative", "scale": {"domain": [-1.102, 1.102], "nice": false, "zero": false}, "axis": null},
  "y": {"datum": 142.3, "type": "quantitative", "scale": {"domain": [0, 184.3], "nice": false, "zero": false}, "axis": null}}},
{"mark": {"type": "text", "text": "×10", "font": "Liberation Sans", "fontSize": 21, "align": "left", "baseline": "alphabetic", "color": "#000000"},
 "encoding": {
  "x": {"datum": -1.2189, "type": "quantitative", "scale": {"domain": [-1.102, 1.102], "nice": false, "zero": false}, "axis": null},
  "y": {"datum": 184.3, "type": "quantitative", "scale": {"domain": [0, 184.3], "nice": false, "zero": false}, "axis": null}}},
{"mark": {"type": "text", "text": "-3", "font": "Liberation Sans", "fontSize": 14, "align": "left", "baseline": "alphabetic", "color": "#000000"},
 "encoding": {
  "x": {"datum": -1.1269, "type": "quantitative", "scale": {"domain": [-1.102, 1.102], "nice": false, "zero": false}, "axis": null},
  "y": {"datum": 187.9, "type": "quantitative", "scale": {"domain": [0, 184.3], "nice": false, "zero": false}, "axis": null}}},
{"mark": {"type": "rule", "color": "#000000", "strokeWidth": 2},
 "encoding": {
  "x": {"datum": -1.301, "type": "quantitative", "scale": {"domain": [-1.102, 1.102], "nice": false, "zero": false}, "axis": null},
  "y": {"datum": 185.65, "type": "quantitative", "scale": {"domain": [0, 184.3], "nice": false, "zero": false}, "axis": null},
  "y2": {"datum": 0.68}}},
{"mark": {"type": "rule", "color": "#000000", "strokeWidth": 2},
 "encoding": {
  "x": {"datum": -1.34, "type": "quantitative", "scale": {"domain": [-1.102, 1.102], "nice": false, "zero": false}, "axis": null},
  "x2": {"datum": -1.301},
  "y": {"datum": 0.68, "type": "quantitative", "scale": {"domain": [0, 184.3], "nice": false, "zero": false}, "axis": null}}},
{"mark": {"type": "rule", "color": "#c8c8c8", "strokeWidth": 1},
 "encoding": {
  "x": {"datum": -1.2935, "type": "quantitative", "scale": {"domain": [-1.102, 1.102], "nice": false, "zero": false}, "axis": null},
  "y": {"datum": 103.3, "type": "quantitative", "scale": {"domain": [0, 184.3], "nice": false, "zero": false}, "axis": null},
  "y2": {"datum": 81.3}}},
{"mark": {"type": "text", "text": "t", "font": "Liberation Sans", "fontSize": 24, "align": "left", "baseline": "alphabetic", "color": "#000000"},
 "encoding": {
  "x": {"datum": -1.334, "type": "quantitative", "scale": {"domain": [-1.102, 1.102], "nice": false, "zero": false}, "axis": null},
  "y": {"datum": -15.4, "type": "quantitative", "scale": {"domain": [0, 184.3], "nice": false, "zero": false}, "axis": null}}}
]
}
